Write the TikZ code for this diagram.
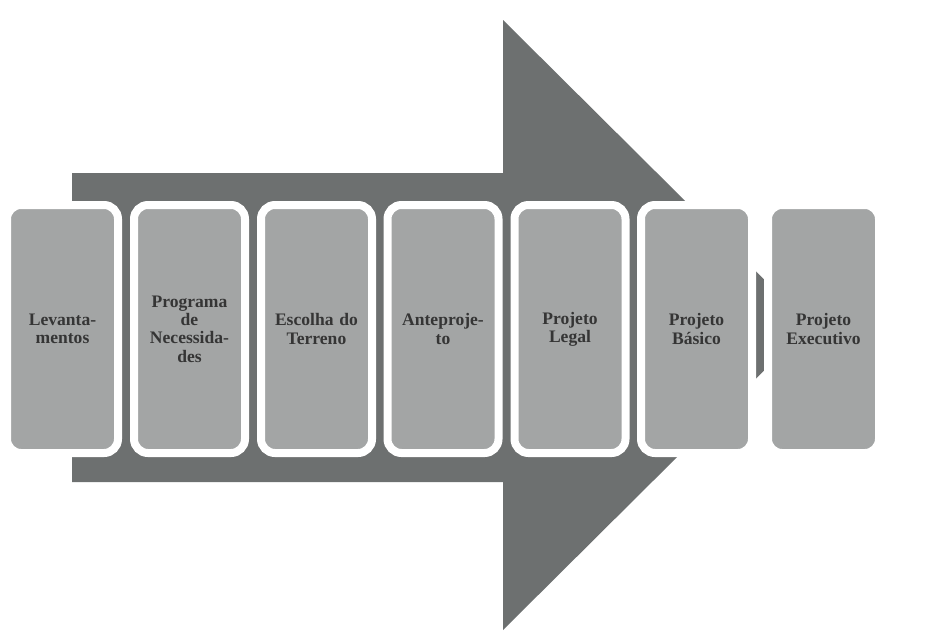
\documentclass[tikz,border=0pt]{standalone}
\usepackage{fontspec}
\setmainfont{Liberation Serif}
\usepackage{xcolor}
\definecolor{arrowgray}{HTML}{6D7070}
\definecolor{boxgray}{HTML}{A3A5A5}
\definecolor{textgray}{HTML}{353535}
\tikzset{
	stage/.style={
		rectangle,
		rounded corners=0.28cm,
		draw=white,
		line width=0.16cm,
		fill=boxgray,
		minimum width=2.22cm,
		minimum height=4.96cm,
		inner xsep=0.02cm,
		text width=2.1cm,
		align=center,
		text=textgray,
		font=\fontsize{10}{10.4}\selectfont\bfseries
	}
}
\begin{document}
\begin{tikzpicture}
	\useasboundingbox (0,0) rectangle (19,12.6);
	\fill[white] (0,0) rectangle (19,12.6);
	
	% big arrow behind the stages
	\fill[arrowgray] (1.44,2.96) -- (1.44,9.14) -- (10.06,9.14) -- (10.06,12.2)
		-- (16.2,6.1) -- (10.06,0) -- (10.06,2.96) -- cycle;
	
	% stages
	\node[stage] (lev) at (1.25,6.02) {Levanta-\\mentos};
	\node[stage] (prog) at (3.79,6.02) {Programa\\de\\Necessida-\\des};
	\node[stage] (esc) at (6.33,6.02) {Escolha do\\Terreno};
	\node[stage] (ante) at (8.86,6.02) {Anteproje-\\to};
	\node[stage] (leg) at (11.4,6.02) {Projeto\\Legal};
	\node[stage] (bas) at (13.93,6.02) {Projeto\\Básico};
	\node[stage] (exe) at (16.47,6.02) {Projeto\\Executivo};
\end{tikzpicture}
\end{document}
